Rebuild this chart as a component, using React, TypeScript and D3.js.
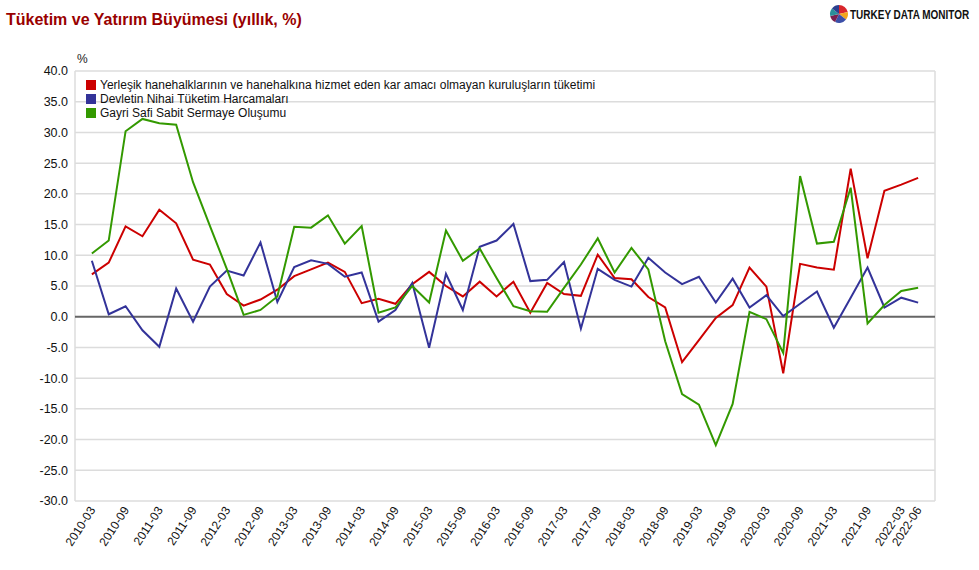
import React from "react";
import * as d3 from "d3";

const periods: string[] = [];
for (let y = 2010; y <= 2022; y++) {
  for (const m of ["03", "06", "09", "12"]) {
    if (y === 2022 && (m === "09" || m === "12")) continue;
    periods.push(`${y}-${m}`);
  }
}

const seriesNames = [
  "Yerleşik hanehalklarının ve hanehalkına hizmet eden kar amacı olmayan kuruluşların tüketimi",
  "Devletin Nihai Tüketim Harcamaları",
  "Gayri Safi Sabit Sermaye Oluşumu",
];

const household = [
  6.9, 8.8, 14.7, 13.1, 17.4, 15.2, 9.3, 8.5, 3.7, 1.8, 2.8, 4.4, 6.6, 7.7, 8.8, 7.3, 2.2, 2.9, 2.1, 5.3,
  7.3, 5.0, 3.3, 5.7, 3.3, 5.7, 0.65, 5.5, 3.7, 3.4, 10.1, 6.3, 6.1, 3.2, 1.5, -7.4, -3.8, -0.2, 1.9, 8.0,
  4.9, -9.2, 8.6, 8.0, 7.65, 24.1, 9.5, 20.5, 21.5, 22.6,
];

const government = [
  9.1, 0.4, 1.7, -2.2, -4.9, 4.6, -0.8, 4.9, 7.5, 6.7, 12.1, 2.4, 8.1, 9.2, 8.6, 6.5, 7.2, -0.8, 1.1, 5.5,
  -5.05, 7.0, 1.1, 11.4, 12.4, 15.1, 5.8, 6.0, 8.9, -1.95, 7.8, 6.0, 4.9, 9.6, 7.2, 5.3, 6.5, 2.3, 6.2, 1.5,
  3.5, 0.1, 2.1, 4.1, -1.8, 3.1, 8.0, 1.5, 3.1, 2.3,
];

const investment = [
  10.3, 12.4, 30.2, 32.2, 31.5, 31.25, 21.9, 14.8, 7.8, 0.3, 1.1, 3.3, 14.65, 14.5, 16.5, 11.9, 14.75, 0.65, 1.5, 5.0,
  2.3, 14.05, 9.1, 11.1, 6.3, 1.7, 0.9, 0.8, 4.7, 8.5, 12.75, 7.2, 11.2, 7.7, -4.0, -12.6, -14.3, -20.9, -14.2, 0.8,
  -0.4, -5.9, 22.9, 11.9, 12.2, 21.0, -1.1, 1.9, 4.2, 4.7,
];

const yTicks = [40, 35, 30, 25, 20, 15, 10, 5, 0, -5, -10, -15, -20, -25, -30];

const colors = ["#cc0000", "#333399", "#339900"];
const logoColors = ["#d9262b", "#f2a51c", "#3b4fa8", "#7a1f4f", "#2a8f9a", "#2b3f8f"];
const logoValues = [3, 2, 3, 2, 2, 2];

const W = 979;
const H = 570;
const L = 75;
const R = 935;
const T = 71;
const B = 501;
const FONT = "'Liberation Sans', Arial, Helvetica, sans-serif";

export default function App() {
  const x = d3
    .scalePoint<number>()
    .domain(periods.map((_, i) => i))
    .range([L, R])
    .padding(1);
  const y = d3.scaleLinear().domain([-30, 40]).range([B, T]);

  const line = d3
    .line<number>()
    .x((_, i) => x(i) as number)
    .y((d) => y(d));

  const data = [household, government, investment];
  const labelIdx = periods.map((_, i) => i).filter((i) => i % 2 === 0 || i === periods.length - 1);

  const pie = d3.pie<number>().sort(null)(logoValues);
  const arc = d3.arc<d3.PieArcDatum<number>>().innerRadius(0).outerRadius(9);

  return (
    <svg
      width={W}
      height={H}
      style={{ position: "absolute", left: 0, top: 0, background: "#fff" }}
      fontFamily={FONT}
    >
      <rect x={0} y={0} width={W} height={H} fill="#fff" />
      <text x={6} y={25} fontSize={16} fontWeight="bold" fill="#990000">
        Tüketim ve Yatırım Büyümesi (yıllık, %)
      </text>

      <g transform="translate(839,14)">
        {pie.map((p, i) => (
          <path key={i} d={arc(p) as string} fill={logoColors[i]} />
        ))}
      </g>
      <text transform="translate(850,19) scale(0.8,1)" fontSize={12.5} fontWeight="bold" fill="#111">
        TURKEY DATA MONITOR
      </text>

      <text x={77} y={63} fontSize={12} fill="#222">%</text>

      {yTicks.map((t) => (
        <g key={t}>
          {t !== 0 && (
            <line x1={L} x2={R} y1={y(t)} y2={y(t)} stroke="#dcdcdc" strokeWidth={1.5} />
          )}
          <text x={68} y={y(t)} dy="0.35em" textAnchor="end" fontSize={12.5} fill="#111">
            {t.toFixed(1)}
          </text>
        </g>
      ))}
      <line x1={L} x2={L} y1={T} y2={B} stroke="#dcdcdc" strokeWidth={1.5} />
      <line x1={R} x2={R} y1={T} y2={B} stroke="#dcdcdc" strokeWidth={1.5} />
      <line x1={L} x2={R} y1={y(0)} y2={y(0)} stroke="#666" strokeWidth={2} />

      {data.map((d, k) => (
        <path key={k} d={line(d) as string} fill="none" stroke={colors[k]} strokeWidth={2} strokeLinejoin="miter" />
      ))}

      {seriesNames.map((n, k) => (
        <g key={n} transform={`translate(86,${85 + k * 14})`}>
          <rect x={0} y={-5} width={10} height={10} fill={colors[k]} />
          <text x={14} y={0} dy="0.35em" fontSize={12} fill="#111">
            {n}
          </text>
        </g>
      ))}

      {labelIdx.map((i) => (
        <text
          key={i}
          transform={`translate(${(x(i) as number) + 4},${B + 9}) rotate(-57)`}
          textAnchor="end"
          fontSize={12}
          fill="#111"
        >
          {periods[i]}
        </text>
      ))}
    </svg>
  );
}
